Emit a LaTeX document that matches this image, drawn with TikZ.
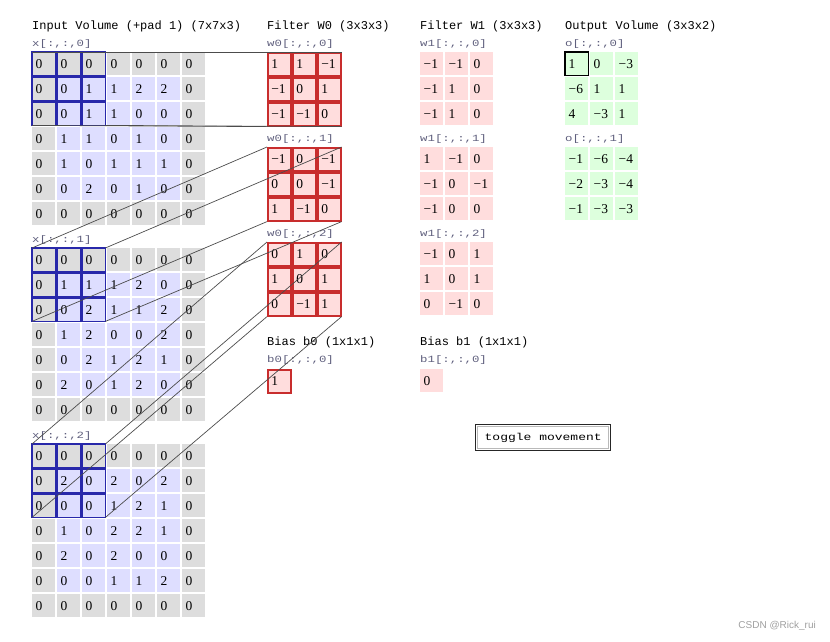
\documentclass[tikz,border=0pt]{standalone}
\usepackage{fontspec}
\setmainfont{Liberation Serif}
\newfontfamily\monofont{Liberation Mono}
\newfontfamily\idxfont[FakeStretch=1.3]{Liberation Mono}
\newfontfamily\marksans{Liberation Sans}
\usepackage{tikz}
\usetikzlibrary{positioning}
\usepackage{xcolor}

\definecolor{padgray}{RGB}{221,221,221}
\definecolor{inblue}{RGB}{222,222,255}
\definecolor{wpink}{RGB}{255,221,221}
\definecolor{wred}{RGB}{200,45,45}
\definecolor{outgreen}{RGB}{221,255,221}
\definecolor{winblue}{RGB}{40,40,170}
\definecolor{idxgray}{RGB}{95,95,125}

% input volume x[:,:,k]
\def\xgridA{{0,0,0,0,0,0,0},{0,0,1,1,2,2,0},{0,0,1,1,0,0,0},{0,1,1,0,1,0,0},{0,1,0,1,1,1,0},{0,0,2,0,1,0,0},{0,0,0,0,0,0,0}}
\def\xgridB{{0,0,0,0,0,0,0},{0,1,1,1,2,0,0},{0,0,2,1,1,2,0},{0,1,2,0,0,2,0},{0,0,2,1,2,1,0},{0,2,0,1,2,0,0},{0,0,0,0,0,0,0}}
\def\xgridC{{0,0,0,0,0,0,0},{0,2,0,2,0,2,0},{0,0,0,1,2,1,0},{0,1,0,2,2,1,0},{0,2,0,2,0,0,0},{0,0,0,1,1,2,0},{0,0,0,0,0,0,0}}
% filters and output
\def\wzA{{1,1,−1},{−1,0,1},{−1,−1,0}}
\def\wzB{{−1,0,−1},{0,0,−1},{1,−1,0}}
\def\wzC{{0,1,0},{1,0,1},{0,−1,1}}
\def\woA{{−1,−1,0},{−1,1,0},{−1,1,0}}
\def\woB{{1,−1,0},{−1,0,−1},{−1,0,0}}
\def\woC{{−1,0,1},{1,0,1},{0,−1,0}}
\def\outA{{1,0,−3},{−6,1,1},{4,−3,1}}
\def\outB{{−1,−6,−4},{−2,−3,−4},{−1,−3,−3}}

\tikzset{
  cell/.style={anchor=north west, minimum height=23pt, text width=16pt, inner xsep=3.5pt, inner ysep=0pt, align=left, font=\fontsize{13.5}{13.5}\selectfont},
  padcell/.style={cell, fill=padgray},
  incell/.style={cell, fill=inblue},
  wcell/.style={cell, fill=wpink, draw=wred, line width=1.6pt},
  w1cell/.style={cell, fill=wpink},
  ocell/.style={cell, fill=outgreen},
  title/.style={anchor=west, inner sep=0pt, font=\monofont\fontsize{12}{12}\selectfont},
  idx/.style={anchor=west, inner sep=0pt, text=idxgray, font=\idxfont\fontsize{9.5}{10}\selectfont},
  winbox/.style={draw=winblue, line width=1.6pt},
  link/.style={draw=black!70, line width=0.7pt},
}

\begin{document}
\begin{tikzpicture}[x=1pt,y=-1pt]
\useasboundingbox (0,0) rectangle (830,641);

\node[title] (tin) at (32,26) {Input Volume (+pad 1) (7x7x3)};
\node[title] (tw0) at (267,26) {Filter W0 (3x3x3)};
\node[title] (tw1) at (420,26) {Filter W1 (3x3x3)};
\node[title] (tout) at (565,26) {Output Volume (3x3x2)};

% input slices
\foreach \sl/\nm in {0/A,1/B,2/C} {
  \node[idx] (lx\sl) at (32,{44+196*\sl}) {x[:,:,\sl]};
  \expandafter\let\expandafter\gd\csname xgrid\nm\endcsname
  \foreach \row [count=\r from 0] in \gd {
    \foreach \v [count=\c from 0] in \row {
      \pgfmathtruncatemacro\ispad{(\r==0)||(\r==6)||(\c==0)||(\c==6)}
      \ifnum\ispad=1 \def\kind{padcell}\else\def\kind{incell}\fi
      \node[\kind] (x\sl-\r-\c) at ({32+25*\c},{52+196*\sl+25*\r}) {\v};
    }
  }
}

% filters W0, W1 and output
\foreach \sl/\nm in {0/A,1/B,2/C} {
  \node[idx] (lw0\sl) at (267,{44+95*\sl}) {w0[:,:,\sl]};
  \node[idx] (lw1\sl) at (420,{44+95*\sl}) {w1[:,:,\sl]};
  \expandafter\let\expandafter\gd\csname wz\nm\endcsname
  \foreach \row [count=\r from 0] in \gd {
    \foreach \v [count=\c from 0] in \row {
      \node[wcell] (w0s\sl-\r-\c) at ({267+25*\c},{52+95*\sl+25*\r}) {\v};
    }
  }
  \expandafter\let\expandafter\gd\csname wo\nm\endcsname
  \foreach \row [count=\r from 0] in \gd {
    \foreach \v [count=\c from 0] in \row {
      \node[w1cell] (w1s\sl-\r-\c) at ({420+25*\c},{52+95*\sl+25*\r}) {\v};
    }
  }
}
\foreach \sl/\nm in {0/A,1/B} {
  \node[idx] (lo\sl) at (565,{44+95*\sl}) {o[:,:,\sl]};
  \expandafter\let\expandafter\gd\csname out\nm\endcsname
  \foreach \row [count=\r from 0] in \gd {
    \foreach \v [count=\c from 0] in \row {
      \node[ocell] (o\sl-\r-\c) at ({565+25*\c},{52+95*\sl+25*\r}) {\v};
    }
  }
}

% biases
\node[title] (tb0) at (267,342) {Bias b0 (1x1x1)};
\node[idx] (lb0) at (267,360) {b0[:,:,0]};
\node[wcell] (b0) at (267,369) {1};
\node[title] (tb1) at (420,342) {Bias b1 (1x1x1)};
\node[idx] (lb1) at (420,360) {b1[:,:,0]};
\node[w1cell] (b1) at (420,369) {0};

% receptive field and current output
\foreach \sl in {0,1,2}
  \foreach \r in {0,1,2}
    \foreach \c in {0,1,2}
      \draw[winbox] (x\sl-\r-\c.north west) rectangle (x\sl-\r-\c.south east);
\draw[line width=1.6pt] (o0-0-0.north west) rectangle (o0-0-0.south east);

\foreach \sl in {0,1,2} {
  \draw[link] (x\sl-0-0.north west) -- (w0s\sl-0-0.north west);
  \draw[link] (x\sl-0-2.north east) -- (w0s\sl-0-2.north east);
  \draw[link] (x\sl-2-0.south west) -- (w0s\sl-2-0.south west);
  \draw[link] (x\sl-2-2.south east) -- (w0s\sl-2-2.south east);
}

\node[draw=black!85, line width=1.4pt, anchor=north west, minimum width=135pt, minimum height=26pt, font=\idxfont\fontsize{10}{10}\selectfont] (toggle) at (475,424) {toggle movement};
\draw[gray!55, line width=1pt] ([shift={(2.5,2.5)}]toggle.north west) rectangle ([shift={(-2.5,-2.5)}]toggle.south east);

\node[anchor=east, inner sep=0pt, text=gray!75, font=\marksans\fontsize{10}{10}\selectfont] (mark) at (816,626) {CSDN @Rick\_rui};
\end{tikzpicture}
\end{document}
